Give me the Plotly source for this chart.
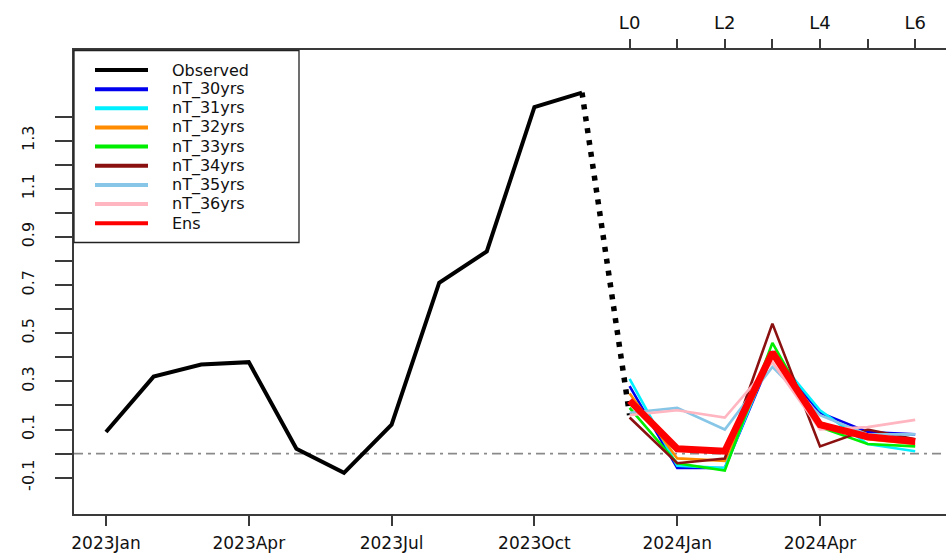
import plotly.graph_objects as go

# ---- data -------------------------------------------------------------
months = ["2023Jan", "2023Feb", "2023Mar", "2023Apr", "2023May", "2023Jun",
          "2023Jul", "2023Aug", "2023Sep", "2023Oct", "2023Nov", "2023Dec",
          "2024Jan", "2024Feb", "2024Mar", "2024Apr", "2024May", "2024Jun"]
month_ticks = ["2023Jan", "2023Apr", "2023Jul", "2023Oct", "2024Jan", "2024Apr"]

obs_months = months[:11]
observed = [0.09, 0.32, 0.37, 0.38, 0.02, -0.08, 0.12, 0.71, 0.84, 1.44, 1.50]

# link from the last observation to the start of the forecasts
link_months = ["2023Nov", "2023Dec"]
link_values = [1.50, 0.16]

fc_months = months[11:18]
leads = ["L0", "L1", "L2", "L3", "L4", "L5", "L6"]
lead_labels = ["L0", "", "L2", "", "L4", "", "L6"]

nT_30yrs = [0.28, -0.06, -0.06, 0.41, 0.17, 0.09, 0.08]
nT_31yrs = [0.31, -0.05, -0.06, 0.42, 0.18, 0.04, 0.01]
nT_32yrs = [0.25, -0.02, -0.03, 0.41, 0.13, 0.06, 0.04]
nT_33yrs = [0.19, -0.04, -0.07, 0.46, 0.11, 0.04, 0.03]
nT_34yrs = [0.15, -0.04, -0.02, 0.54, 0.03, 0.10, 0.06]
nT_35yrs = [0.17, 0.19, 0.10, 0.36, 0.16, 0.08, 0.08]
nT_36yrs = [0.16, 0.18, 0.15, 0.38, 0.10, 0.11, 0.14]
ens = [0.22, 0.02, 0.01, 0.42, 0.12, 0.07, 0.05]

member_names = ["nT_30yrs", "nT_31yrs", "nT_32yrs", "nT_33yrs",
                "nT_34yrs", "nT_35yrs", "nT_36yrs"]
member_values = [nT_30yrs, nT_31yrs, nT_32yrs, nT_33yrs,
                 nT_34yrs, nT_35yrs, nT_36yrs]
member_colors = ["#0000ee", "#00f0ff", "#ff8c00", "#00ee00",
                 "#8b1010", "#87c6e6", "#ffb6c1"]

y_ticks = [-0.1, 0.0, 0.1, 0.2, 0.3, 0.4, 0.5, 0.6, 0.7, 0.8, 0.9, 1.0,
           1.1, 1.2, 1.3, 1.4]
y_tick_labels = ["-0.1", "", "0.1", "", "0.3", "", "0.5", "", "0.7", "",
                 "0.9", "", "1.1", "", "1.3", ""]

# ---- layout geometry --------------------------------------------------
W, H = 946, 553
ML, MR, MT, MB = 74, 0, 50, 39
PW, PH = W - ML - MR, H - MT - MB
FONT = "DejaVu Sans"
AXIS_COLOR = "#3a3a3a"


def idx(labels):
    return [months.index(m) for m in labels]


def px_x(p):
    return (p - ML) / PW


def px_y(p):
    return (H - MB - p) / PH


fig = go.Figure()

fig.add_trace(go.Scatter(x=idx(obs_months), y=observed, mode="lines",
                         line=dict(color="black", width=4),
                         hoverinfo="skip", showlegend=False))
fig.add_trace(go.Scatter(x=idx(link_months), y=link_values, mode="lines",
                         line=dict(color="black", width=5.5, dash="5px,7px"),
                         hoverinfo="skip", showlegend=False))

for name, vals, col in zip(member_names, member_values, member_colors):
    fig.add_trace(go.Scatter(x=idx(fc_months), y=vals, mode="lines", name=name,
                             line=dict(color=col, width=2.6),
                             hoverinfo="skip", showlegend=False))

fig.add_trace(go.Scatter(x=idx(fc_months), y=ens, mode="lines", name="Ens",
                         line=dict(color="#ff0000", width=7),
                         hoverinfo="skip", showlegend=False))

# horizontal reference line at zero
fig.add_shape(type="line", xref="paper", x0=0, x1=1, yref="y", y0=0, y1=0,
              line=dict(color="#8a8a8a", width=1.6, dash="9px,5px,3px,5px"),
              layer="below")

# ---- legend box ------------------------------------------------------
legend_names = ["Observed"] + member_names + ["Ens"]
legend_colors = ["black"] + member_colors + ["#ff0000"]
box_left, box_right, box_top, box_bottom = 74, 299, 50.5, 242.5
row0, row_step = 70, 19.15
fig.add_shape(type="rect", xref="paper", yref="paper",
              x0=px_x(box_left), x1=px_x(box_right),
              y0=px_y(box_bottom), y1=px_y(box_top),
              line=dict(color="#222222", width=1.3), fillcolor="white",
              layer="above")
for i, (nm, col) in enumerate(zip(legend_names, legend_colors)):
    yy = px_y(row0 + i * row_step)
    fig.add_shape(type="line", xref="paper", yref="paper",
                  x0=px_x(95), x1=px_x(148), y0=yy, y1=yy,
                  line=dict(color=col, width=4), layer="above")
    fig.add_annotation(xref="paper", yref="paper", x=px_x(170), y=yy,
                       text=nm, showarrow=False, xanchor="left",
                       yanchor="middle",
                       font=dict(family=FONT, size=16, color="#111111"))

# ---- axes -------------------------------------------------------------
x_lo, x_hi = -0.672, 17.647
fig.update_layout(
    width=W, height=H, autosize=False,
    margin=dict(l=ML, r=MR, t=MT, b=MB, pad=0, autoexpand=False),
    paper_bgcolor="white", plot_bgcolor="white",
    font=dict(family=FONT, size=18, color="#111111"),
    showlegend=False,
    xaxis=dict(range=[x_lo, x_hi], tickmode="array", automargin=False,
               tickvals=idx(month_ticks), ticktext=month_ticks,
               showgrid=False, zeroline=False,
               showline=True, linecolor=AXIS_COLOR, linewidth=1.5,
               ticks="outside", ticklen=10, tickwidth=1.5,
               tickcolor=AXIS_COLOR, ticklabelstandoff=3,
               tickfont=dict(family=FONT, size=17, color="#111111")),
    xaxis2=dict(range=[x_lo, x_hi], overlaying="x", side="top",
                automargin=False,
                tickmode="array", tickvals=idx(fc_months),
                ticktext=lead_labels,
                showgrid=False, zeroline=False,
                showline=True, linecolor=AXIS_COLOR, linewidth=1.5,
                ticks="outside", ticklen=9, tickwidth=1.5,
                tickcolor=AXIS_COLOR, ticklabelstandoff=3,
                tickfont=dict(family=FONT, size=18, color="#111111")),
    yaxis=dict(range=[-0.2509, 1.6768], tickmode="array", automargin=False,
               tickvals=y_ticks, ticktext=y_tick_labels, tickangle=-90,
               showgrid=False, zeroline=False,
               showline=True, linecolor=AXIS_COLOR, linewidth=1.5,
               ticks="outside", ticklen=17, tickwidth=1.5,
               tickcolor=AXIS_COLOR, ticklabelstandoff=15,
               tickfont=dict(family=FONT, size=16, color="#111111")),
)

# invisible trace so the top axis is bound to data
fig.add_trace(go.Scatter(x=idx(fc_months), y=ens, xaxis="x2", mode="lines",
                         line=dict(width=0), opacity=0, hoverinfo="skip",
                         showlegend=False))

fig.write_html("out.html", config={"displayModeBar": False})
